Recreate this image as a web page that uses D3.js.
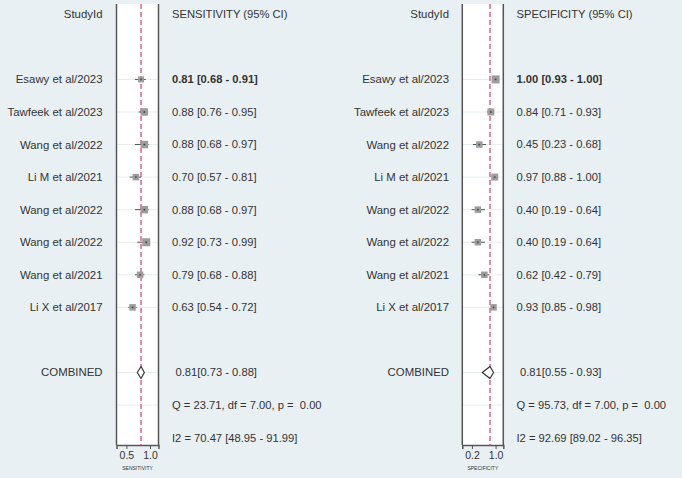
<!DOCTYPE html>
<html>
<head>
<meta charset="utf-8">
<script src="https://cdn.jsdelivr.net/npm/d3@7"></script>
<style>
  body { margin: 0; background: #e9f0f4; }
  text { font-family: "Liberation Sans", Arial, sans-serif; fill: #333; white-space: pre; }
</style>
</head>
<body>
<script>
// Study labels (same for both panels)
var studies = ["Esawy et al/2023", "Tawfeek et al/2023", "Wang et al/2022", "Li M et al/2021",
  "Wang et al/2022", "Wang et al/2022", "Wang et al/2021", "Li X et al/2017"];

// Sensitivity estimates and 95% CI
var sensEst = [0.81, 0.88, 0.88, 0.70, 0.88, 0.92, 0.79, 0.63];
var sensLo = [0.68, 0.76, 0.68, 0.57, 0.68, 0.73, 0.68, 0.54];
var sensHi = [0.91, 0.95, 0.97, 0.81, 0.97, 0.99, 0.88, 0.72];
var sensWeight = [6, 7.5, 7.5, 6.5, 7.5, 8, 6.5, 6.5];
var sensCombined = [0.81, 0.73, 0.88];
var sensStats = ["Q = 23.71, df = 7.00, p =  0.00", "I2 = 70.47 [48.95 - 91.99]"];

// Specificity estimates and 95% CI
var specEst = [1.00, 0.84, 0.45, 0.97, 0.40, 0.40, 0.62, 0.93];
var specLo = [0.93, 0.71, 0.23, 0.88, 0.19, 0.19, 0.42, 0.85];
var specHi = [1.00, 0.93, 0.68, 1.00, 0.64, 0.64, 0.79, 0.98];
var specWeight = [8, 7, 6.5, 7, 6.5, 6.5, 6.5, 6.5];
var specCombined = [0.81, 0.55, 0.93];
var specStats = ["Q = 95.73, df = 7.00, p =  0.00", "I2 = 92.69 [89.02 - 96.35]"];

var sensTicks = [0.5, 1.0];
var specTicks = [0.2, 1.0];

var width = 682, height = 478;

var svg = d3.select("body").append("svg")
  .attr("width", width)
  .attr("height", height);

svg.append("rect")
  .attr("width", width)
  .attr("height", height)
  .attr("fill", "#e9f0f4");

// row positions: header at -2, studies 0..7, combined 9, Q 10, I2 11
var rowY = d3.scaleLinear().domain([-2, 11]).range([14.3, 437.6]);

function fmt(v) { return v.toFixed(2); }

function drawPanel(p) {
  var g = svg.append("g");

  var x = d3.scaleLinear().domain(p.domain).range(p.range);
  var boxTop = 4, boxBottom = 445;

  // white plot box
  g.append("rect")
    .attr("x", p.range[0])
    .attr("y", boxTop)
    .attr("width", p.range[1] - p.range[0])
    .attr("height", boxBottom - boxTop)
    .attr("fill", "#fff");

  // faint row gridlines
  var gridRows = d3.range(0, 8).concat([9, 10]);
  g.selectAll(".grid")
    .data(gridRows)
    .enter()
    .append("line")
    .attr("x1", p.range[0])
    .attr("x2", p.range[1])
    .attr("y1", d => rowY(d))
    .attr("y2", d => rowY(d))
    .attr("stroke", "#e6eef2")
    .attr("stroke-width", 1);

  // box borders
  g.selectAll(".border")
    .data(p.range)
    .enter()
    .append("line")
    .attr("x1", d => d)
    .attr("x2", d => d)
    .attr("y1", boxTop)
    .attr("y2", boxBottom)
    .attr("stroke", "#555")
    .attr("stroke-width", 1.5);

  // bottom axis
  var axis = d3.axisBottom(x).tickValues(p.ticks).tickSize(4).tickPadding(3)
    .tickFormat(d3.format(".1f"));
  var ax = g.append("g")
    .attr("transform", `translate(0, ${boxBottom})`)
    .call(axis);
  ax.select(".domain").attr("stroke", "#555").attr("stroke-width", 1.5);
  ax.selectAll(".tick line").attr("stroke", "#555");
  ax.selectAll(".tick text")
    .attr("font-size", 10.5)
    .attr("fill", "#333")
    .style("font-family", "Liberation Sans, Arial, sans-serif");

  g.append("text")
    .attr("x", (p.range[0] + p.range[1]) / 2)
    .attr("y", 470)
    .attr("text-anchor", "middle")
    .attr("font-size", 5)
    .text(p.axisTitle);

  // summary dashed line
  g.append("line")
    .attr("x1", x(p.combined[0]))
    .attr("x2", x(p.combined[0]))
    .attr("y1", boxTop)
    .attr("y2", boxBottom)
    .attr("stroke", "#e0628c")
    .attr("stroke-width", 1.5)
    .attr("stroke-dasharray", "5,3");

  // CI lines
  g.selectAll(".ci")
    .data(studies)
    .enter()
    .append("line")
    .attr("x1", (d, i) => x(p.lo[i]))
    .attr("x2", (d, i) => x(p.hi[i]))
    .attr("y1", (d, i) => rowY(i))
    .attr("y2", (d, i) => rowY(i))
    .attr("stroke", "#555")
    .attr("stroke-width", 1);

  // weighted squares
  g.selectAll(".sq")
    .data(studies)
    .enter()
    .append("rect")
    .attr("x", (d, i) => x(p.est[i]) - p.weight[i] / 2)
    .attr("y", (d, i) => rowY(i) - p.weight[i] / 2)
    .attr("width", (d, i) => p.weight[i])
    .attr("height", (d, i) => p.weight[i])
    .attr("fill", "#9c9c9c");

  g.selectAll(".dot")
    .data(studies)
    .enter()
    .append("circle")
    .attr("cx", (d, i) => x(p.est[i]))
    .attr("cy", (d, i) => rowY(i))
    .attr("r", 0.9)
    .attr("fill", "#444");

  // combined diamond
  var cy = rowY(9);
  var dpts = [[x(p.combined[1]), cy], [x(p.combined[0]), cy - 6],
    [x(p.combined[2]), cy], [x(p.combined[0]), cy + 6]];
  g.append("path")
    .attr("d", d3.line()(dpts) + "Z")
    .attr("fill", "#fff")
    .attr("stroke", "#333")
    .attr("stroke-width", 1.2)
    .attr("stroke-linejoin", "round");

  // left labels
  var labels = g.append("g").attr("text-anchor", "end").attr("font-size", 11.4);
  labels.append("text")
    .attr("x", p.labelX).attr("y", rowY(-2)).attr("dy", "0.35em")
    .text("StudyId");
  labels.selectAll(".lab")
    .data(studies)
    .enter()
    .append("text")
    .attr("x", p.labelX)
    .attr("y", (d, i) => rowY(i))
    .attr("dy", "0.35em")
    .text(d => d);
  labels.append("text")
    .attr("x", p.labelX).attr("y", rowY(9)).attr("dy", "0.35em")
    .text("COMBINED");

  // right value column
  var vals = g.append("g").attr("font-size", 11.2);
  vals.append("text")
    .attr("x", p.valueX).attr("y", rowY(-2)).attr("dy", "0.35em")
    .text(p.header);
  vals.selectAll(".val")
    .data(studies)
    .enter()
    .append("text")
    .attr("x", p.valueX)
    .attr("y", (d, i) => rowY(i))
    .attr("dy", "0.35em")
    .attr("font-weight", (d, i) => i === 0 ? "bold" : null)
    .text((d, i) => `${fmt(p.est[i])} [${fmt(p.lo[i])} - ${fmt(p.hi[i])}]`);
  vals.append("text")
    .attr("x", p.valueX + 3.5).attr("y", rowY(9)).attr("dy", "0.35em")
    .text(`${fmt(p.combined[0])}[${fmt(p.combined[1])} - ${fmt(p.combined[2])}]`);
  vals.selectAll(".stat")
    .data(p.stats)
    .enter()
    .append("text")
    .attr("x", p.valueX)
    .attr("y", (d, i) => rowY(10 + i))
    .attr("dy", "0.35em")
    .text(d => d);
}

drawPanel({
  domain: [0.29, 1.18], range: [116.5, 158.5], ticks: sensTicks,
  est: sensEst, lo: sensLo, hi: sensHi, weight: sensWeight,
  combined: sensCombined, stats: sensStats,
  labelX: 102.5, valueX: 172, header: "SENSITIVITY (95% CI)", axisTitle: "SENSITIVITY"
});

drawPanel({
  domain: [-0.126, 1.26], range: [462.3, 503.3], ticks: specTicks,
  est: specEst, lo: specLo, hi: specHi, weight: specWeight,
  combined: specCombined, stats: specStats,
  labelX: 449, valueX: 516.5, header: "SPECIFICITY (95% CI)", axisTitle: "SPECIFICITY"
});
</script>
</body>
</html>
